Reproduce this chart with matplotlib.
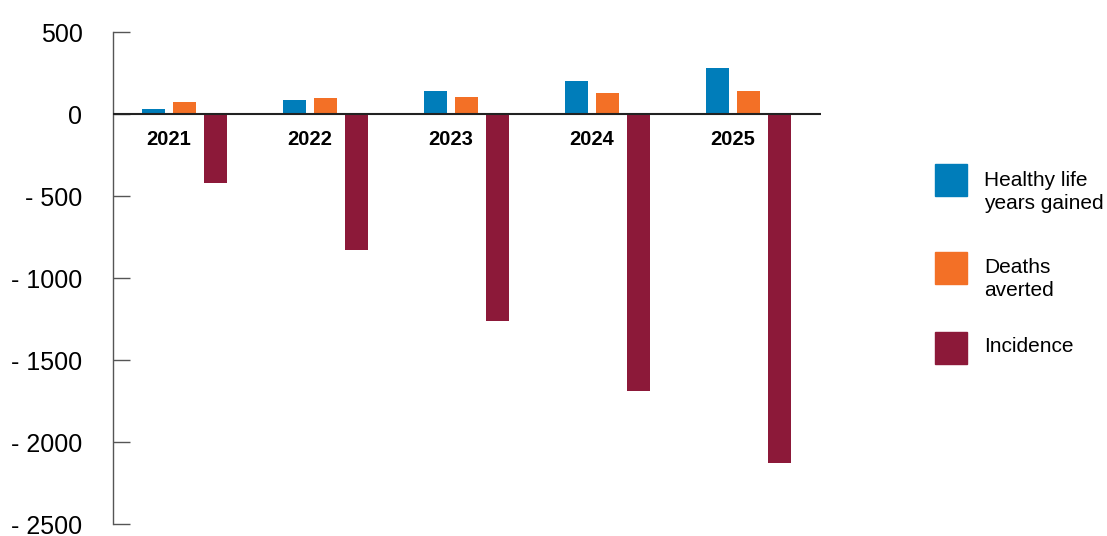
import matplotlib
matplotlib.use("Agg")
import matplotlib.pyplot as plt
from matplotlib.patches import Rectangle
import numpy as np

plt.rcParams['font.family'] = ['Liberation Sans', 'DejaVu Sans']

years = ['2021', '2022', '2023', '2024', '2025']
healthy_life_years = [32, 87, 142, 203, 282]
deaths_averted = [75, 99, 105, 130, 142]
incidence = [-420, -827, -1260, -1687, -2126]
series_names = ['Healthy life\nyears gained', 'Deaths\naverted', 'Incidence']
colors = ['#007DBA', '#F37026', '#8C1939']
y_ticks = [500, 0, -500, -1000, -1500, -2000, -2500]
y_tick_labels = ['500', '0', '- 500', '- 1000', '- 1500', '- 2000', '- 2500']

W, H = 1107, 536
fig = plt.figure(figsize=(W / 100, H / 100), dpi=100)
ax = fig.add_axes([113 / W, 1 - 524 / H, (821 - 113) / W, (524 - 32) / H])

x = np.arange(len(years))
bw = 0.163
step = 0.22
all_series = [healthy_life_years, deaths_averted, incidence]
for i, (vals, c) in enumerate(zip(all_series, colors)):
    ax.bar(x + (i - 1) * step, vals, width=bw, color=c, zorder=2)

ax.set_xlim(-0.507, 4.514)
ax.set_ylim(-2500, 500)
ax.axhline(0, color='#222222', lw=1.5, zorder=3)

for xi, yr in zip(x, years):
    ax.text(xi - step / 2, -155, yr, ha='center', va='center',
            fontsize=14.5, fontweight='bold', color='black')

for s in ['top', 'right', 'bottom']:
    ax.spines[s].set_visible(False)
ax.spines['left'].set_color('#555555')
ax.spines['left'].set_linewidth(1.0)
ax.set_xticks([])
ax.set_yticks(y_ticks)
ax.set_yticklabels(y_tick_labels)
ax.tick_params(axis='y', direction='in', length=12.5, width=1.0, color='#555555',
               labelsize=18, pad=22, labelcolor='black')

# legend
patch_centers = [180, 268, 348]
text_centers = [192, 279, 346]
for name, c, cy, ty in zip(series_names, colors, patch_centers, text_centers):
    fig.add_artist(Rectangle((935 / W, 1 - (cy + 16) / H), 32 / W, 32 / H,
                             transform=fig.transFigure, color=c))
    fig.text(984 / W, 1 - ty / H, name, ha='left', va='center', fontsize=15,
             linespacing=1.3, color='black')

fig.savefig('out.png', dpi=100)
